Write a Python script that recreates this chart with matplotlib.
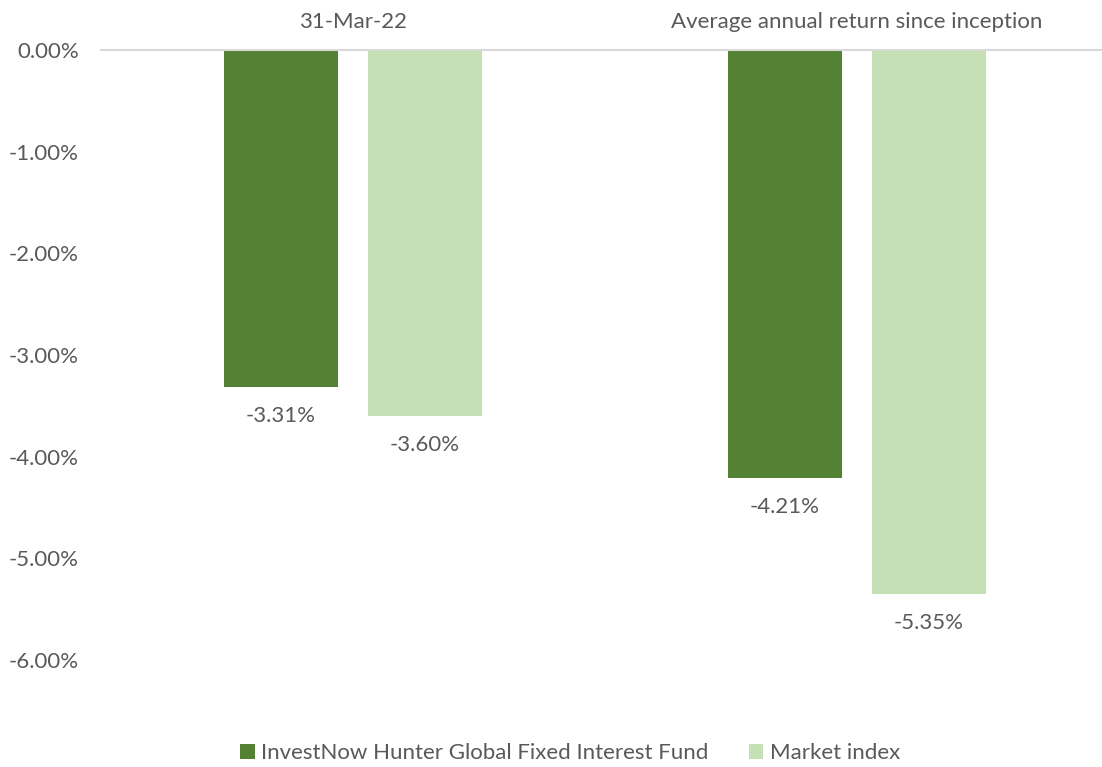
import matplotlib.pyplot as plt
from matplotlib.ticker import FuncFormatter

# data
categories = ["31-Mar-22", "Average annual return since inception"]
fund_name = "InvestNow Hunter Global Fixed Interest Fund"
index_name = "Market index"
fund_vals = [-3.31, -4.21]
index_vals = [-3.60, -5.35]

dark = "#548235"
light = "#C5E0B4"
grey = "#595959"

plt.rcParams['font.family'] = ['Lato', 'DejaVu Sans']

fig = plt.figure(figsize=(11.02, 7.67), dpi=100)
ax = fig.add_axes([101 / 1102, 1 - 660 / 767, 1008 / 1102, 610 / 767])

x = list(range(len(categories)))
w = 0.226
off = 0.143
b1 = ax.bar([i - off for i in x], fund_vals, w, color=dark, label=fund_name, zorder=2)
b2 = ax.bar([i + off for i in x], index_vals, w, color=light, label=index_name, zorder=2)

# value labels under each bar
for bars, vals in [(b1, fund_vals), (b2, index_vals)]:
    for r, v in zip(bars, vals):
        ax.annotate(f"{v:.2f}%", (r.get_x() + r.get_width() / 2, v),
                    xytext=(0, -21), textcoords="offset points",
                    ha="center", va="center", fontsize=16, color=grey)

ax.set_xlim(-0.5, 1.5)
ax.set_ylim(-6, 0)
ax.set_yticks([0, -1, -2, -3, -4, -5, -6])
ax.yaxis.set_major_formatter(FuncFormatter(lambda v, p: f"{v:.2f}%"))

ax.xaxis.tick_top()
ax.set_xticks(x)
ax.set_xticklabels(categories)
ax.tick_params(axis='x', length=0, pad=13, labelsize=16, colors=grey)
ax.tick_params(axis='y', length=0, pad=16, labelsize=16, colors=grey)

for s in ["left", "right", "bottom"]:
    ax.spines[s].set_visible(False)
ax.spines["top"].set_color("#D9D9D9")
ax.spines["top"].set_linewidth(1.5)

fig.legend(loc="center", bbox_to_anchor=(570 / 1102, 1 - 753 / 767), ncol=2,
           frameon=False, fontsize=16, handlelength=0.65, handleheight=0.65,
           handletextpad=0.3, columnspacing=1.8, labelcolor=grey)

plt.savefig("out.png", dpi=100)
